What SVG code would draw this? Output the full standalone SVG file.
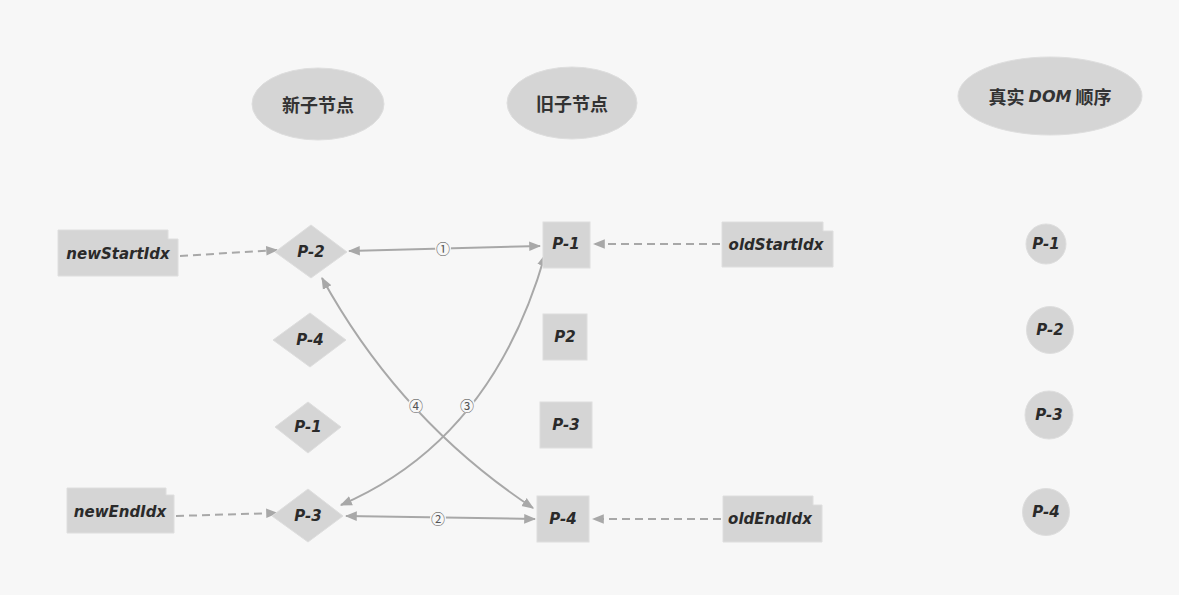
<svg xmlns="http://www.w3.org/2000/svg" width="1179" height="595" viewBox="0 0 1179 595">
<defs>
<style>
.bg{fill:#f7f7f7}
.node{fill:#d5d5d5;stroke:#dedede;stroke-width:1}
.hd{font-family:"Noto Sans CJK SC","Noto Sans",sans-serif;font-weight:bold;font-size:18px;fill:#333;text-anchor:middle;dominant-baseline:central}
.lb{font-family:"DejaVu Sans","Liberation Sans",sans-serif;font-weight:bold;font-style:italic;font-size:15px;fill:#2a2a2a;text-anchor:middle;dominant-baseline:central}
.ln{fill:none;stroke:#a8a8a8;stroke-width:2}
.dash{stroke-dasharray:8 5}
.num{font-family:"Noto Sans CJK SC","DejaVu Sans",sans-serif;font-size:14px;fill:#555;text-anchor:middle;dominant-baseline:central}
.gap{fill:#f7f7f7}
</style>
<marker id="ah" viewBox="0 0 10 10" refX="9" refY="5" markerWidth="6" markerHeight="6" orient="auto-start-reverse" markerUnits="strokeWidth">
<path d="M0,1 L10,5 L0,9 z" fill="#a8a8a8"/>
</marker>
</defs>
<rect class="bg" x="0" y="0" width="1179" height="595"/>

<g id="connectors">
<path class="ln dash" d="M180,256 L277,250" marker-end="url(#ah)"/>
<path class="ln dash" d="M720,244 L594,244" marker-end="url(#ah)"/>
<path class="ln dash" d="M176,516 L277,513" marker-end="url(#ah)"/>
<path class="ln dash" d="M721,519 L593,519" marker-end="url(#ah)"/>
<path class="ln" d="M349,251 L540,246" marker-start="url(#ah)" marker-end="url(#ah)"/>
<path class="ln" d="M346,516 L535,519" marker-start="url(#ah)" marker-end="url(#ah)"/>
<path class="ln" d="M341,505 Q492,440 545,255" marker-start="url(#ah)" marker-end="url(#ah)"/>
<path class="ln" d="M322,278 Q400,420 533,508" marker-start="url(#ah)" marker-end="url(#ah)"/>
<circle class="gap" cx="443" cy="248" r="8"/>
<text class="num" x="443" y="248">①</text>
<circle class="gap" cx="438" cy="518" r="8"/>
<text class="num" x="438" y="518">②</text>
<circle class="gap" cx="467" cy="405" r="8"/>
<text class="num" x="467" y="405">③</text>
<circle class="gap" cx="416" cy="405" r="8"/>
<text class="num" x="416" y="405">④</text>
</g>

<g id="head-new"><ellipse class="node" cx="318" cy="104" rx="66" ry="36"/><text class="hd" x="318" y="104">新子节点</text></g>
<g id="head-old"><ellipse class="node" cx="572" cy="103" rx="65" ry="36"/><text class="hd" x="572" y="103">旧子节点</text></g>
<g id="head-dom"><ellipse class="node" cx="1050" cy="96" rx="92" ry="39"/><text class="hd" x="1050" y="96">真实 <tspan style="font-family:'DejaVu Sans',sans-serif;font-style:italic;font-size:16px">DOM</tspan> 顺序</text></g>

<g id="newStartIdx"><path class="node" d="M58,230 H168 V239 H178 V276 H58 Z"/><text class="lb" x="118" y="254">newStartIdx</text></g>
<g id="oldStartIdx"><path class="node" d="M722,222 H823 V231 H833 V267 H722 Z"/><text class="lb" x="776" y="245">oldStartIdx</text></g>
<g id="newEndIdx"><path class="node" d="M67,488 H166 V495 H174 V533 H67 Z"/><text class="lb" x="120" y="512">newEndIdx</text></g>
<g id="oldEndIdx"><path class="node" d="M723,496 H813 V505 H822 V542 H723 Z"/><text class="lb" x="770" y="519">oldEndIdx</text></g>

<g id="new-p2"><polygon class="node" points="311,225 347,252 311,278 275,252"/><text class="lb" x="311" y="252">P-2</text></g>
<g id="new-p4"><polygon class="node" points="310,313 346,340 310,367 273,340"/><text class="lb" x="310" y="340">P-4</text></g>
<g id="new-p1"><polygon class="node" points="308,402 341,427 308,453 275,427"/><text class="lb" x="308" y="427">P-1</text></g>
<g id="new-p3"><polygon class="node" points="308,489 343,516 308,542 272,516"/><text class="lb" x="308" y="516">P-3</text></g>

<g id="old-p1"><rect class="node" x="543" y="222" width="47" height="46"/><text class="lb" x="566" y="244">P-1</text></g>
<g id="old-p2"><rect class="node" x="543" y="314" width="44" height="46"/><text class="lb" x="565" y="337">P2</text></g>
<g id="old-p3"><rect class="node" x="540" y="402" width="52" height="46"/><text class="lb" x="566" y="425">P-3</text></g>
<g id="old-p4"><rect class="node" x="537" y="496" width="52" height="46"/><text class="lb" x="563" y="519">P-4</text></g>

<g id="dom-p1"><circle class="node" cx="1046" cy="244" r="20"/><text class="lb" x="1046" y="244">P-1</text></g>
<g id="dom-p2"><circle class="node" cx="1050" cy="330" r="23.5"/><text class="lb" x="1050" y="330">P-2</text></g>
<g id="dom-p3"><circle class="node" cx="1049" cy="415" r="24"/><text class="lb" x="1049" y="415">P-3</text></g>
<g id="dom-p4"><circle class="node" cx="1046" cy="512" r="23.5"/><text class="lb" x="1046" y="512">P-4</text></g>
</svg>
